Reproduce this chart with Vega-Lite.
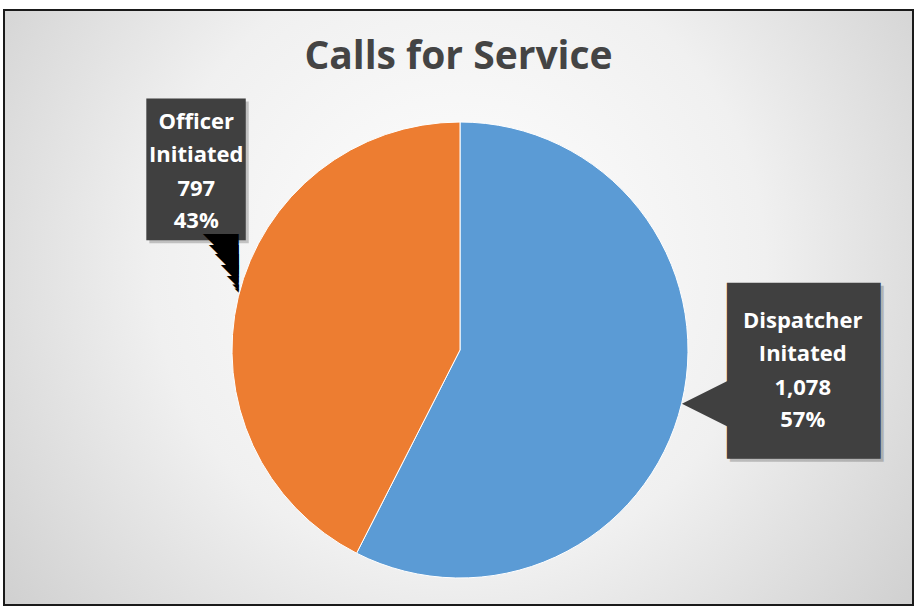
{
  "$schema": "https://vega.github.io/schema/vega-lite/v6.json",
  "width": 916,
  "height": 613,
  "autosize": {"type": "fit", "contains": "padding"},
  "padding": {"left": 4, "top": 10, "right": 3, "bottom": 8},
  "background": "#ffffff",
  "config": {
    "style": {
      "view": {
        "stroke": "#1a1a1a",
        "strokeWidth": 2,
        "fill": {
          "gradient": "radial",
          "x1": 0.5, "y1": 0.45, "r1": 0,
          "x2": 0.5, "y2": 0.45, "r2": 0.75,
          "stops": [
            {"offset": 0, "color": "#ffffff"},
            {"offset": 0.45, "color": "#f0f0f0"},
            {"offset": 1, "color": "#c2c2c2"}
          ]
        }
      },
      "tooth": {
        "text": "◥",
        "font": "DejaVu Sans",
        "align": "right",
        "baseline": "bottom",
        "fill": "#404040",
        "radius": 228,
        "dx": 0.5
      }
    }
  },
  "title": {
    "text": "Calls for Service",
    "font": "Open Sans",
    "fontSize": 39,
    "fontWeight": "bold",
    "color": "#444444",
    "anchor": "middle",
    "baseline": "alphabetic",
    "offset": -98
  },
  "data": {
    "values": [
      {"category": "Dispatcher Initated", "calls": 1078, "share": 0.57},
      {"category": "Officer Initiated", "calls": 797, "share": 0.43}
    ]
  },
  "encoding": {
    "theta": {"field": "calls", "type": "quantitative", "stack": true},
    "order": {"field": "calls", "type": "quantitative", "sort": "descending"}
  },
  "layer": [
    {
      "mark": {
        "type": "arc",
        "outerRadius": 228,
        "stroke": "#ffffff",
        "strokeWidth": 1,
        "x": {"expr": "width/2 + 1.5"},
        "y": {"expr": "height/2 + 42.5"}
      },
      "encoding": {
        "color": {
          "field": "category",
          "type": "nominal",
          "scale": {"domain": ["Dispatcher Initated", "Officer Initiated"], "range": ["#5b9bd5", "#ed7d31"]},
          "legend": null
        }
      }
    },
    {
      "mark": {
        "type": "text",
        "text": "█",
        "font": "DejaVu Sans Mono",
        "align": "center",
        "baseline": "middle",
        "fill": "#000000",
        "opacity": 0.2,
        "stroke": "#000000",
        "strokeJoin": "miter",
        "radius": 300,
        "x": {"expr": "width/2 + 1.5"},
        "y": {"expr": "height/2 + 42.5"},
        "fontSize": {"expr": "datum.category == 'Officer Initiated' ? 74.7 : 39.1"},
        "strokeWidth": {"expr": "datum.category == 'Officer Initiated' ? 53 : 129.5"},
        "dx": {"expr": "datum.category == 'Officer Initiated' ? 31 : 55"},
        "dy": {"expr": "datum.category == 'Officer Initiated' ? -103.6 : -44.7"}
      }
    },
    {
      "mark": {
        "type": "text",
        "text": "◀",
        "font": "DejaVu Sans",
        "align": "left",
        "baseline": "middle",
        "fill": "#404040",
        "radius": 229,
        "fontSize": 74,
        "dx": -1,
        "dy": -2,
        "x": {"expr": "width/2 + 1.5"},
        "y": {"expr": "height/2 + 42.5"}
      },
      "encoding": {
        "opacity": {"condition": {"test": "datum.category == 'Dispatcher Initated'", "value": 1}, "value": 0}
      }
    },
    {
      "mark": {
        "type": "text",
        "text": "█",
        "font": "DejaVu Sans Mono",
        "align": "center",
        "baseline": "middle",
        "fill": "#404040",
        "stroke": "#404040",
        "strokeJoin": "miter",
        "radius": 300,
        "x": {"expr": "width/2 + 1.5"},
        "y": {"expr": "height/2 + 42.5"},
        "fontSize": {"expr": "datum.category == 'Officer Initiated' ? 74.7 : 39.1"},
        "strokeWidth": {"expr": "datum.category == 'Officer Initiated' ? 53 : 129.5"},
        "dx": {"expr": "datum.category == 'Officer Initiated' ? 28 : 52"},
        "dy": {"expr": "datum.category == 'Officer Initiated' ? -106.6 : -47.7"}
      }
    },
    {
      "mark": {"type": "text", "style": "tooth", "fontSize": 46.9, "dy": -22.8, "x": {"expr": "width/2 + 1.5"}, "y": {"expr": "height/2 + 42.5"}},
      "encoding": {"opacity": {"condition": {"test": "datum.category == 'Officer Initiated'", "value": 1}, "value": 0}}
    },
    {
      "mark": {"type": "text", "style": "tooth", "fontSize": 39.1, "dy": -19.2, "x": {"expr": "width/2 + 1.5"}, "y": {"expr": "height/2 + 42.5"}},
      "encoding": {"opacity": {"condition": {"test": "datum.category == 'Officer Initiated'", "value": 1}, "value": 0}}
    },
    {
      "mark": {"type": "text", "style": "tooth", "fontSize": 31.3, "dy": -15.5, "x": {"expr": "width/2 + 1.5"}, "y": {"expr": "height/2 + 42.5"}},
      "encoding": {"opacity": {"condition": {"test": "datum.category == 'Officer Initiated'", "value": 1}, "value": 0}}
    },
    {
      "mark": {"type": "text", "style": "tooth", "fontSize": 23.4, "dy": -11.8, "x": {"expr": "width/2 + 1.5"}, "y": {"expr": "height/2 + 42.5"}},
      "encoding": {"opacity": {"condition": {"test": "datum.category == 'Officer Initiated'", "value": 1}, "value": 0}}
    },
    {
      "mark": {"type": "text", "style": "tooth", "fontSize": 15.6, "dy": -8.2, "x": {"expr": "width/2 + 1.5"}, "y": {"expr": "height/2 + 42.5"}},
      "encoding": {"opacity": {"condition": {"test": "datum.category == 'Officer Initiated'", "value": 1}, "value": 0}}
    },
    {
      "mark": {"type": "text", "style": "tooth", "fontSize": 8.6, "dy": -4.8, "x": {"expr": "width/2 + 1.5"}, "y": {"expr": "height/2 + 42.5"}},
      "encoding": {"opacity": {"condition": {"test": "datum.category == 'Officer Initiated'", "value": 1}, "value": 0}}
    },
    {
      "mark": {"type": "text", "style": "tooth", "fontSize": 5.5, "dy": -3.4, "x": {"expr": "width/2 + 1.5"}, "y": {"expr": "height/2 + 42.5"}},
      "encoding": {"opacity": {"condition": {"test": "datum.category == 'Officer Initiated'", "value": 1}, "value": 0}}
    },
    {
      "mark": {
        "type": "text",
        "font": "Open Sans",
        "fontWeight": "bold",
        "fontSize": 22,
        "fill": "#ffffff",
        "align": "center",
        "baseline": "middle",
        "lineBreak": " ",
        "lineHeight": 33,
        "radius": 300,
        "x": {"expr": "width/2 + 1.5"},
        "y": {"expr": "height/2 + 42.5"},
        "dx": {"expr": "datum.category == 'Officer Initiated' ? 28 : 51"},
        "dy": {"expr": "datum.category == 'Officer Initiated' ? -158 : -98.5"}
      },
      "encoding": {"text": {"field": "category", "type": "nominal"}}
    },
    {
      "mark": {
        "type": "text",
        "font": "Open Sans",
        "fontWeight": "bold",
        "fontSize": 22,
        "fill": "#ffffff",
        "align": "center",
        "baseline": "middle",
        "radius": 300,
        "x": {"expr": "width/2 + 1.5"},
        "y": {"expr": "height/2 + 42.5"},
        "dx": {"expr": "datum.category == 'Officer Initiated' ? 28 : 51"},
        "dy": {"expr": "datum.category == 'Officer Initiated' ? -91 : -31.5"}
      },
      "encoding": {"text": {"field": "calls", "type": "quantitative", "format": ","}}
    },
    {
      "mark": {
        "type": "text",
        "font": "Open Sans",
        "fontWeight": "bold",
        "fontSize": 22,
        "fill": "#ffffff",
        "align": "center",
        "baseline": "middle",
        "radius": 300,
        "x": {"expr": "width/2 + 1.5"},
        "y": {"expr": "height/2 + 42.5"},
        "dx": {"expr": "datum.category == 'Officer Initiated' ? 28 : 51"},
        "dy": {"expr": "datum.category == 'Officer Initiated' ? -59 : 0.5"}
      },
      "encoding": {"text": {"field": "share", "type": "quantitative", "format": ".0%"}}
    }
  ]
}
